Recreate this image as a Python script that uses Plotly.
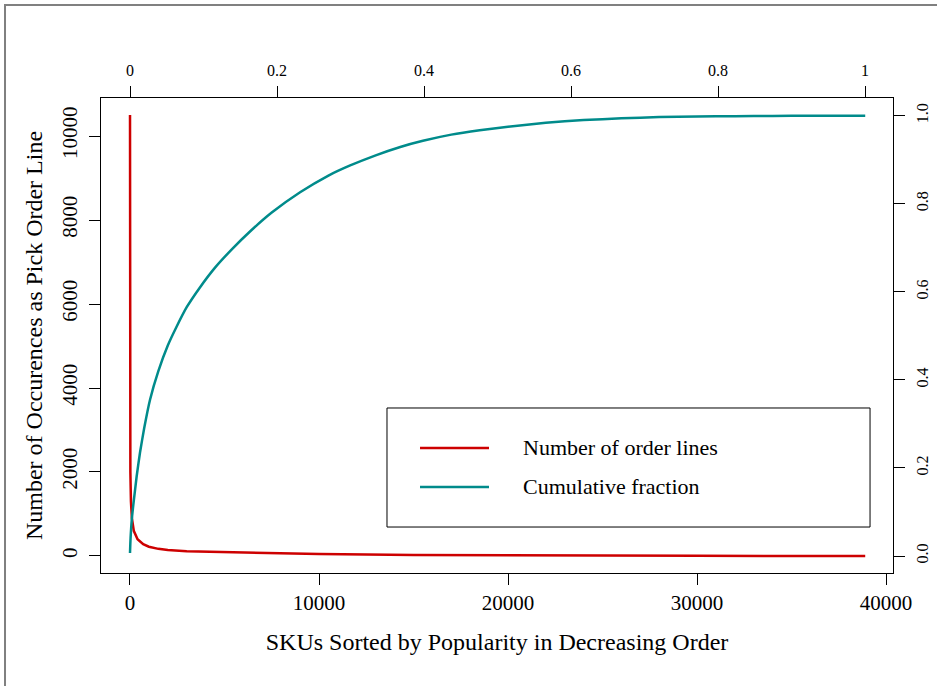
import plotly.graph_objects as go

# ---- data ----
sku_red = [1, 5, 20, 50, 100, 200, 400, 700, 1000, 1500, 2000, 3000, 5000,
           7500, 10000, 15000, 20000, 25000, 30000, 35000, 38900]
order_lines = [10500, 4000, 2000, 1300, 900, 600, 400, 280, 220, 170, 140,
               115, 90, 65, 45, 25, 12, 6, 3, 1, 1]

sku_cum = [1, 30, 100, 200, 350, 530, 750, 1060, 1500, 2000, 2400, 3000,
           3700, 4500, 5400, 6350, 7500, 9000, 10500, 11650, 13000, 14300,
           15500, 17000, 18500, 20000, 22000, 24000, 26000, 28000, 30000,
           32000, 34000, 36000, 38900]
cum_fraction = [0.007, 0.04, 0.085, 0.125, 0.18, 0.235, 0.29, 0.355, 0.42,
                0.478, 0.515, 0.565, 0.61, 0.655, 0.697, 0.737, 0.78, 0.826,
                0.864, 0.887, 0.91, 0.929, 0.943, 0.957, 0.967, 0.975, 0.984,
                0.990, 0.994, 0.997, 0.998, 0.999, 0.9995, 1.0, 1.0]

x_ticks = [0, 10000, 20000, 30000, 40000]
y_ticks = [0, 2000, 4000, 6000, 8000, 10000]
top_ticks = [0, 0.2, 0.4, 0.6, 0.8, 1]
top_labels = ["0", "0.2", "0.4", "0.6", "0.8", "1"]
right_ticks = [0, 0.2, 0.4, 0.6, 0.8, 1.0]
right_labels = ["0.0", "0.2", "0.4", "0.6", "0.8", "1.0"]

series_names = ["Number of order lines", "Cumulative fraction"]
RED = "#CD0000"
TEAL = "#008B8B"
FONT = "Liberation Serif"

fig = go.Figure()
fig.add_trace(go.Scatter(x=sku_red, y=order_lines, mode="lines",
                         line=dict(color=RED, width=2.5), name=series_names[0],
                         xaxis="x", yaxis="y"))
fig.add_trace(go.Scatter(x=sku_cum, y=cum_fraction, mode="lines",
                         line=dict(color=TEAL, width=2.5, shape="spline",
                                   smoothing=0.5),
                         name=series_names[1], xaxis="x", yaxis="y2"))
# empty trace so that the top (fraction) axis is drawn
fig.add_trace(go.Scatter(x=[], y=[], mode="lines", xaxis="x2", yaxis="y",
                         showlegend=False, hoverinfo="skip"))

axis_common = dict(showgrid=False, zeroline=False, showline=True,
                   linecolor="black", linewidth=1, ticks="outside",
                   ticklen=11, tickwidth=1, tickcolor="black",
                   automargin=False)

fig.update_layout(
    width=937, height=686,
    margin=dict(l=101, r=44, t=98, b=113, pad=0),
    paper_bgcolor="white", plot_bgcolor="white",
    showlegend=False,
    font=dict(family=FONT, color="black"),
    xaxis=dict(range=[-1534, 40370], tickvals=x_ticks,
               ticktext=[str(v) for v in x_ticks],
               tickfont=dict(size=21), mirror=True,
               title=dict(text="SKUs Sorted by Popularity in Decreasing Order",
                          font=dict(size=24), standoff=18),
               **axis_common),
    xaxis2=dict(range=[-0.0395, 1.0381], overlaying="x", side="top",
                anchor="y", tickvals=top_ticks, ticktext=top_labels,
                tickfont=dict(size=16), ticklabelstandoff=4, **axis_common),
    yaxis=dict(range=[-405, 10905], tickvals=y_ticks,
               ticktext=[str(v) for v in y_ticks], tickangle=-90,
               tickfont=dict(size=21), mirror=True, ticklabelstandoff=4,
               title=dict(text="Number of Occurences as Pick Order Line",
                          font=dict(size=24), standoff=8),
               **axis_common),
    yaxis2=dict(range=[-0.0386, 1.0402], overlaying="y", side="right",
                anchor="x", tickvals=right_ticks, ticktext=right_labels,
                tickangle=-90, tickfont=dict(size=16), ticklabelstandoff=4,
                **axis_common),
)

# outer figure frame
fig.add_shape(type="rect", xref="paper", yref="paper",
              x0=-0.1212, y0=-1.0, x1=2.0, y1=1.1958,
              line=dict(color="#808080", width=2), layer="below")

# legend box
fig.add_shape(type="rect", xref="paper", yref="paper",
              x0=0.3611, x1=0.9710, y0=0.0968, y1=0.3474,
              line=dict(color="black", width=1), fillcolor="white")
leg_y = [0.2632, 0.1811]
for name, col, yy in zip(series_names, [RED, TEAL], leg_y):
    fig.add_shape(type="line", xref="paper", yref="paper",
                  x0=0.4028, x1=0.4899, y0=yy, y1=yy,
                  line=dict(color=col, width=2.5))
    fig.add_annotation(xref="paper", yref="paper", x=0.5308, y=yy,
                       text=name, showarrow=False, xanchor="left",
                       yanchor="middle", font=dict(size=22, family=FONT))

fig.write_html("out.html",
               config={"displayModeBar": False},
               post_script="document.body.style.margin='0';"
                           "document.body.style.overflow='hidden';")
